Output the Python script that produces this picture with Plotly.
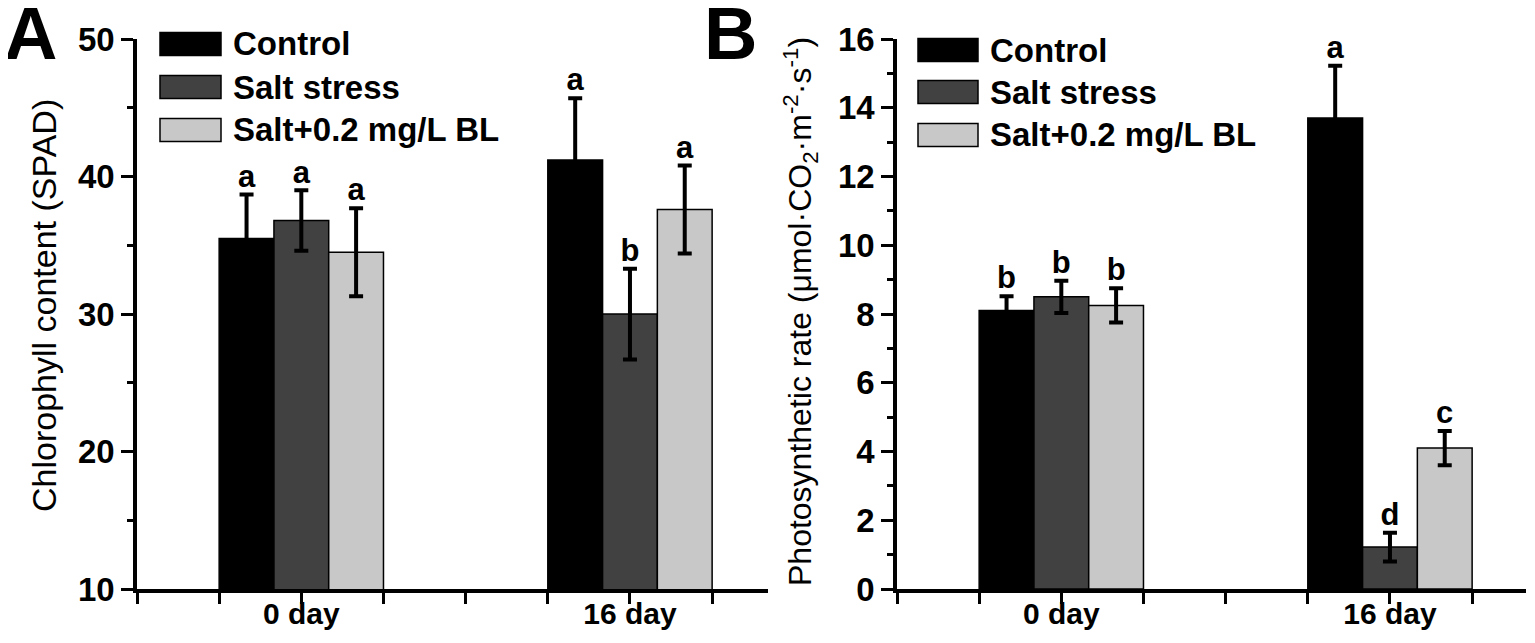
import plotly.graph_objects as go

# ---------------- data ----------------
groups = ["0 day", "16 day"]
group_pos = [1, 2]
series_names = ["Control", "Salt stress", "Salt+0.2 mg/L BL"]
series_colors = ["#000000", "#414141", "#c8c8c8"]

# Panel A: chlorophyll content (SPAD)
chl_control = [35.5, 41.2]
chl_salt = [36.8, 30.0]
chl_bl = [34.5, 37.6]
chl_control_err = [3.2, 4.5]
chl_salt_err = [2.2, 3.3]
chl_bl_err = [3.2, 3.2]
chl_control_sig = ["a", "a"]
chl_salt_sig = ["a", "b"]
chl_bl_sig = ["a", "a"]

# Panel B: photosynthetic rate
ps_control = [8.1, 13.7]
ps_salt = [8.5, 1.22]
ps_bl = [8.25, 4.1]
ps_control_err = [0.42, 1.52]
ps_salt_err = [0.47, 0.42]
ps_bl_err = [0.5, 0.5]
ps_control_sig = ["b", "a"]
ps_salt_sig = ["b", "d"]
ps_bl_sig = ["b", "c"]

# ---------------- style ----------------
PAGE_W, PAGE_H = 1535, 643
OFF = 8  # default page margin around the figure
W, H = PAGE_W - 2 * OFF, PAGE_H - 2 * OFF
FONT = "Liberation Sans, Arial, sans-serif"
BARGAP = 0.5
bar_w = (1 - BARGAP) / 3


def px_x(p):
    return min(1.0, max(0.0, (p - OFF) / W))


def px_y(p):
    return min(1.0, max(0.0, 1 - (p - OFF) / H))


fig = go.Figure()

panels = [
    ("x", "y", [chl_control, chl_salt, chl_bl],
     [chl_control_err, chl_salt_err, chl_bl_err],
     [chl_control_sig, chl_salt_sig, chl_bl_sig]),
    ("x2", "y2", [ps_control, ps_salt, ps_bl],
     [ps_control_err, ps_salt_err, ps_bl_err],
     [ps_control_sig, ps_salt_sig, ps_bl_sig]),
]

for xa, ya, vals, errs, sigs in panels:
    for i, name in enumerate(series_names):
        fig.add_trace(go.Bar(
            x=group_pos, y=vals[i], name=name, xaxis=xa, yaxis=ya,
            offsetgroup=str(i),
            marker=dict(color=series_colors[i], line=dict(color="#000000", width=1.5)),
            error_y=dict(type="data", array=errs[i], visible=True,
                         color="#000000", thickness=4, width=7),
            showlegend=False,
        ))
    for i in range(3):
        fig.add_trace(go.Scatter(
            x=[p + (i - 1) * bar_w for p in group_pos],
            y=[v + e for v, e in zip(vals[i], errs[i])],
            text=sigs[i], mode="text", textposition="top center",
            textfont=dict(family=FONT, size=31, color="#000000", weight="bold"),
            xaxis=xa, yaxis=ya, showlegend=False, hoverinfo="skip",
        ))

ydom = [px_y(589), px_y(39)]
PX_PER_UNIT = (768 - 137) / (2.42 - 0.5)
b_end = 1526

common_x = dict(
    tickmode="array", tickvals=group_pos, ticktext=groups,
    ticks="outside", ticklen=11, tickwidth=3, tickcolor="#000",
    minor=dict(tick0=0.5, dtick=0.25, ticks="outside", ticklen=11, tickwidth=3, tickcolor="#000"),
    ticklabelstandoff=-16,
    showline=True, linewidth=3.5, linecolor="#000", showgrid=False, zeroline=False,
    automargin=False,
    tickfont=dict(family=FONT, size=30, color="#000", weight="bold"),
)
common_y = dict(
    ticks="outside", ticklen=12, tickwidth=3, tickcolor="#000",
    showline=True, linewidth=3.5, linecolor="#000", showgrid=False, zeroline=False,
    automargin=False,
    tickfont=dict(family=FONT, size=33, color="#000", weight="bold"),
)

fig.update_layout(
    width=W, height=H, autosize=False,
    margin=dict(l=0, r=0, t=0, b=0, pad=0, autoexpand=False),
    paper_bgcolor="white", plot_bgcolor="white",
    showlegend=False,
    barmode="group", bargap=BARGAP, bargroupgap=0,
    xaxis=dict(domain=[px_x(137), px_x(768)], range=[0.5, 2.42], anchor="y", **common_x),
    yaxis=dict(domain=ydom, range=[10, 50], dtick=10, anchor="x",
               minor=dict(dtick=5, ticks="outside", ticklen=6, tickwidth=3, tickcolor="#000"),
               **common_y),
    xaxis2=dict(domain=[px_x(897), px_x(b_end)],
                range=[0.5, 0.5 + (b_end - 897) / PX_PER_UNIT], anchor="y2", **common_x),
    yaxis2=dict(domain=ydom, range=[0, 16], dtick=2, anchor="x2",
                minor=dict(dtick=1, ticks="outside", ticklen=6, tickwidth=3, tickcolor="#000"),
                **common_y),
)

annotations = []
shapes = []

# panel letters
for label, xp in [("A", 30), ("B", 730)]:
    annotations.append(dict(
        text=label, x=px_x(xp), y=px_y(33), xref="paper", yref="paper",
        showarrow=False, xanchor="center", yanchor="middle",
        font=dict(family=FONT, size=74, color="#000", weight="bold"),
    ))

# y-axis titles
annotations.append(dict(
    text="Chlorophyll content (SPAD)", x=px_x(44), y=px_y(306),
    xref="paper", yref="paper", showarrow=False, textangle=-90,
    xanchor="center", yanchor="middle",
    font=dict(family=FONT, size=34, color="#000"),
))
annotations.append(dict(
    text="Photosynthetic rate (μmol·CO<sub>2</sub>·m<sup>-2</sup>·s<sup>-1</sup>)",
    x=px_x(800), y=px_y(312),
    xref="paper", yref="paper", showarrow=False, textangle=-90,
    xanchor="center", yanchor="middle",
    font=dict(family=FONT, size=32, color="#000"),
))

# legends
for box_x0, box_x1, text_x, row_y in [(160, 221, 231, [44, 87, 130]),
                                      (918, 978, 988, [50, 92, 135])]:
    for i, name in enumerate(series_names):
        cy = row_y[i]
        shapes.append(dict(
            type="rect", xref="paper", yref="paper",
            x0=px_x(box_x0), x1=px_x(box_x1), y0=px_y(cy + 11.5), y1=px_y(cy - 11.5),
            fillcolor=series_colors[i], line=dict(color="#000", width=1.5),
        ))
        annotations.append(dict(
            text=name, x=px_x(text_x), y=px_y(cy), xref="paper", yref="paper",
            showarrow=False, xanchor="left", yanchor="middle",
            font=dict(family=FONT, size=33, color="#000", weight="bold"),
        ))

fig.update_layout(annotations=annotations, shapes=shapes)

fig.write_html("out.html")
